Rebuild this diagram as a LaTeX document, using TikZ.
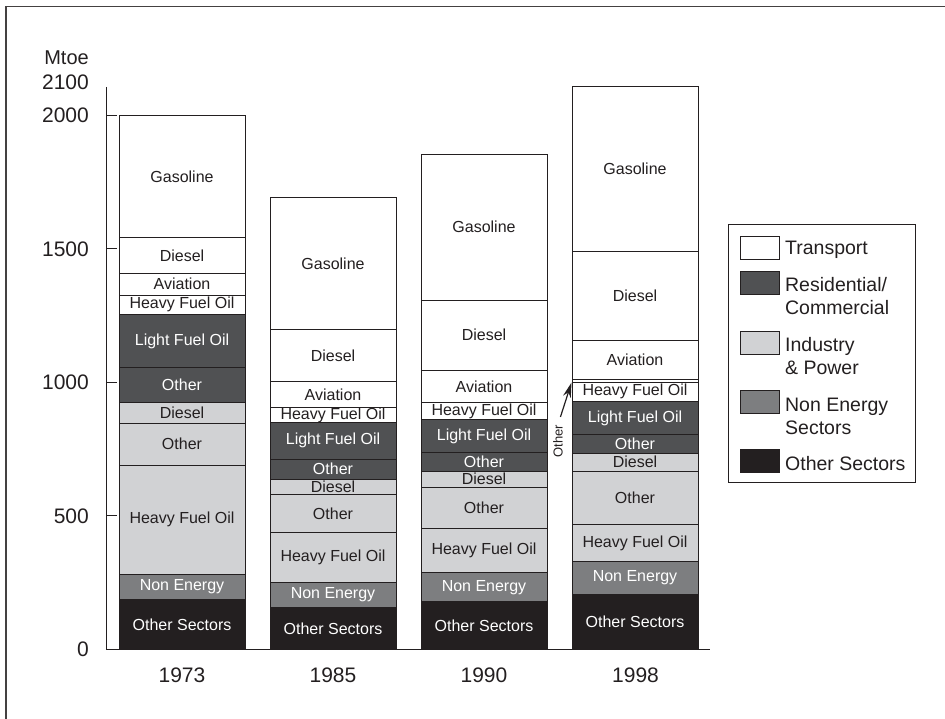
\documentclass[tikz,border=0pt]{standalone}
\usepackage{fontspec}
\setmainfont{Liberation Sans}
\usetikzlibrary{arrows.meta, positioning}

\definecolor{ink}{RGB}{35,31,32}
\definecolor{rescol}{RGB}{80,81,83}
\definecolor{indcol}{RGB}{209,210,212}
\definecolor{necol}{RGB}{125,126,128}
\definecolor{oscol}{RGB}{35,31,32}

% one stacked block: x, bottom, top (Mtoe), sector, name, label
\newcommand{\seg}[6]{%
  \draw[segline, #4] (#1,#2) rectangle (#1+126,#3)
    node[midway, txt #4] (#5) {#6};}

\begin{document}
\begin{tikzpicture}[
  x=1pt, y=1pt,
  every node/.style={font=\fontsize{16}{19}\selectfont, text=ink, inner sep=0pt},
  segline/.style={draw=ink, line width=0.8pt},
  tr/.style={fill=white},
  rc/.style={fill=rescol},
  ip/.style={fill=indcol},
  ne/.style={fill=necol},
  os/.style={fill=oscol},
  txt tr/.style={text=ink},
  txt rc/.style={text=white},
  txt ip/.style={text=ink},
  txt ne/.style={text=white},
  txt os/.style={text=white},
  axisline/.style={draw=ink, line width=1pt},
  frameline/.style={draw=ink!85, line width=1.6pt},
  axislbl/.style={font=\fontsize{21}{24}\selectfont, anchor=east},
  yearlbl/.style={font=\fontsize{21}{24}\selectfont},
  legswatch/.style={draw=ink, line width=0.9pt, minimum width=39pt, minimum height=23pt},
  legtxt/.style={font=\fontsize{19.5}{23}\selectfont, align=left},
  arr/.style={-{Stealth[length=15pt, width=8pt]}, draw=ink, line width=1.2pt},
]
\useasboundingbox (0,0) rectangle (945,719);

%% Frame
\draw[frameline] (6,0) -- (6,712.5) -- (945,712.5);

%% Chart (values in Mtoe)
\begin{scope}[shift={(0,69.7)}, y=0.267pt]

%% 1973
\seg{119}{0}{187}{os}{s73os}{Other Sectors}
\seg{119}{187}{281}{ne}{s73ne}{Non Energy}
\seg{119}{281}{690}{ip}{s73ihfo}{Heavy Fuel Oil}
\seg{119}{690}{846}{ip}{s73ioth}{Other}
\seg{119}{846}{925}{ip}{s73idsl}{Diesel}
\seg{119}{925}{1055}{rc}{s73roth}{Other}
\seg{119}{1055}{1255}{rc}{s73rlfo}{Light Fuel Oil}
\seg{119}{1255}{1327}{tr}{s73thfo}{Heavy Fuel Oil}
\seg{119}{1327}{1408}{tr}{s73tavi}{Aviation}
\seg{119}{1408}{1543}{tr}{s73tdsl}{Diesel}
\seg{119}{1543}{2000}{tr}{s73tgas}{Gasoline}

%% 1985
\seg{270}{0}{156}{os}{s85os}{Other Sectors}
\seg{270}{156}{251}{ne}{s85ne}{Non Energy}
\seg{270}{251}{437}{ip}{s85ihfo}{Heavy Fuel Oil}
\seg{270}{437}{580}{ip}{s85ioth}{Other}
\seg{270}{580}{637}{ip}{s85idsl}{Diesel}
\seg{270}{637}{712}{rc}{s85roth}{Other}
\seg{270}{712}{850}{rc}{s85rlfo}{Light Fuel Oil}
\seg{270}{850}{905}{tr}{s85thfo}{Heavy Fuel Oil}
\seg{270}{905}{1004}{tr}{s85tavi}{Aviation}
\seg{270}{1004}{1198}{tr}{s85tdsl}{Diesel}
\seg{270}{1198}{1693}{tr}{s85tgas}{Gasoline}

%% 1990
\seg{421}{0}{178}{os}{s90os}{Other Sectors}
\seg{421}{178}{287}{ne}{s90ne}{Non Energy}
\seg{421}{287}{453}{ip}{s90ihfo}{Heavy Fuel Oil}
\seg{421}{453}{607}{ip}{s90ioth}{Other}
\seg{421}{607}{668}{ip}{s90idsl}{Diesel}
\seg{421}{668}{736}{rc}{s90roth}{Other}
\seg{421}{736}{861}{rc}{s90rlfo}{Light Fuel Oil}
\seg{421}{861}{924}{tr}{s90thfo}{Heavy Fuel Oil}
\seg{421}{924}{1045}{tr}{s90tavi}{Aviation}
\seg{421}{1045}{1308}{tr}{s90tdsl}{Diesel}
\seg{421}{1308}{1855}{tr}{s90tgas}{Gasoline}

%% 1998
\seg{572}{0}{207}{os}{s98os}{Other Sectors}
\seg{572}{207}{331}{ne}{s98ne}{Non Energy}
\seg{572}{331}{466}{ip}{s98ihfo}{Heavy Fuel Oil}
\seg{572}{466}{668}{ip}{s98ioth}{Other}
\seg{572}{668}{734}{ip}{s98idsl}{Diesel}
\seg{572}{734}{803}{rc}{s98roth}{Other}
\seg{572}{803}{930}{rc}{s98rlfo}{Light Fuel Oil}
\seg{572}{930}{999}{tr}{s98thfo}{Heavy Fuel Oil}
\seg{572}{999}{1011}{tr}{s98toth}{}
\seg{572}{1011}{1158}{tr}{s98tavi}{Aviation}
\seg{572}{1158}{1492}{tr}{s98tdsl}{Diesel}
\seg{572}{1492}{2110}{tr}{s98tgas}{Gasoline}

\coordinate (othtip) at (571.5,999);

%% Axes
\draw[axisline] (106,2106) -- (106,0) -- (710,0);
\foreach \v in {500,1000,1500,2000}
  \draw[axisline] (106,\v) -- (117,\v);
\foreach \v in {0,500,1000,1500,2000}
  \node[axislbl] (ylab\v) at (89,\v) {\v};
\end{scope}

\node[axislbl] (ylab2100) at (89,637) {2100};
\node[font=\fontsize{20}{23}\selectfont, anchor=east] (unit) at (89,661) {Mtoe};

%% Years
\node[yearlbl] (yr73) at (182,44) {1973};
\node[yearlbl] (yr85) at (333,44) {1985};
\node[yearlbl] (yr90) at (484,44) {1990};
\node[yearlbl] (yr98) at (635.5,44) {1998};

%% Note on the thin 1998 block
\node[font=\fontsize{13}{15}\selectfont, rotate=90] (othnote) at (558,278) {Other};
\draw[arr, shorten <=8pt] (othnote.east) -- (othtip);

%% Legend
\draw[draw=ink, line width=1pt] (728.3,494) rectangle (915,236.7);
\node[legswatch, fill=white]  (legtr) at (759.5,471.3) {};
\node[legswatch, fill=rescol] (legrc) at (759.5,436.5) {};
\node[legswatch, fill=indcol] (legip) at (759.5,376.5) {};
\node[legswatch, fill=necol]  (legne) at (759.5,317) {};
\node[legswatch, fill=oscol]  (legos) at (759.5,258) {};
\node[legtxt, right=5.5pt of legtr, yshift=-2.5pt] (legtrtxt) {Transport};
\node[legtxt, right=5.5pt of legrc, yshift=-14pt] (legrctxt) {Residential/\\Commercial};
\node[legtxt, right=5.5pt of legip, yshift=-14pt] (legiptxt) {Industry\\\& Power};
\node[legtxt, right=5.5pt of legne, yshift=-14pt] (legnetxt) {Non Energy\\Sectors};
\node[legtxt, right=5.5pt of legos, yshift=-2.5pt] (legostxt) {Other Sectors};

\end{tikzpicture}
\end{document}
